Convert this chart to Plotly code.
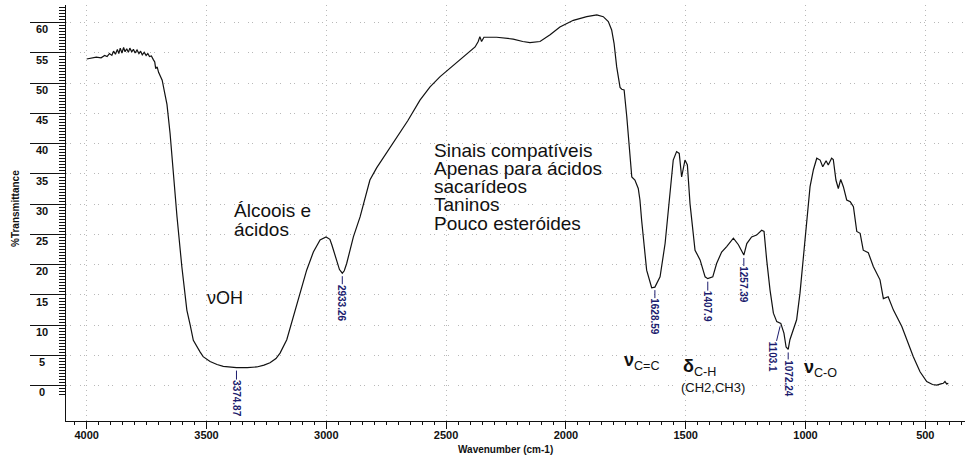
import numpy as np
import plotly.graph_objects as go

# ---------------- data ----------------
wavenumber = [
    4000, 3980, 3960, 3940, 3925, 3915, 3905, 3895, 3888, 3880, 3872, 3866, 3860, 3853,
    3846, 3840, 3833, 3826, 3820, 3812, 3805, 3798, 3790, 3782, 3775, 3768, 3760, 3752,
    3745, 3738, 3730, 3722, 3716, 3712, 3706, 3700, 3694, 3685, 3675, 3665, 3652, 3639,
    3623, 3603, 3582, 3568, 3555, 3527, 3514, 3485, 3456, 3430, 3400, 3374.87, 3330, 3290,
    3260, 3235, 3210, 3193, 3165, 3138, 3110, 3082, 3054, 3026, 3001, 2985, 2977, 2957,
    2945, 2933.26, 2925, 2915, 2900, 2887, 2859, 2831, 2818, 2790, 2760, 2730, 2700, 2660,
    2609, 2567, 2525, 2470, 2414, 2379, 2366, 2359, 2352, 2342, 2289, 2220, 2180, 2150,
    2108, 2066, 2025, 1969, 1913, 1871, 1844, 1823, 1809, 1799, 1788, 1774, 1767, 1757,
    1746, 1733, 1725, 1712, 1698, 1691, 1684, 1663, 1642, 1628.59, 1607, 1586, 1566, 1552,
    1538, 1527, 1517, 1503, 1493, 1482, 1461, 1440, 1419, 1407.9, 1387, 1371, 1350, 1329,
    1301, 1280, 1257.39, 1245, 1225, 1204, 1183, 1173, 1162, 1148, 1134, 1120, 1103.1, 1097,
    1090, 1081, 1072.24, 1065, 1051, 1037, 1023, 1009, 995, 981, 967, 953, 939, 928,
    914, 905, 891, 884, 873, 863, 853, 842, 828, 813, 800, 786, 772, 759,
    738, 717, 689, 675, 655, 633, 598, 578, 550, 522, 494, 470, 452, 435,
    425, 418, 411, 404,
]
transmittance = [
    54.0, 54.2, 54.3, 54.2, 54.6, 54.4, 54.9, 54.6, 55.3, 54.8, 55.6, 54.9, 55.8, 55.0,
    55.9, 55.2, 55.7, 55.1, 55.8, 55.2, 55.6, 55.0, 55.5, 54.9, 55.3, 54.7, 55.1, 54.6,
    54.9, 54.4, 54.5, 53.9, 53.5, 52.4, 52.7, 51.8, 51.2, 50.5, 48.5, 46.5, 41.7, 35.0,
    27.9, 19.7, 12.5, 10.0, 7.5, 5.6, 4.8, 4.0, 3.5, 3.2, 3.05, 3.0, 3.0, 3.1,
    3.4, 3.8, 4.5, 5.4, 7.6, 11.4, 15.3, 19.1, 22.1, 24.1, 24.6, 24.2, 23.3, 20.5,
    19.2, 18.6, 19.0, 20.2, 22.5, 24.6, 27.9, 32.3, 34.0, 36.0, 37.8, 39.5, 41.5, 43.8,
    47.2, 49.4, 51.1, 53.0, 54.9, 56.0, 56.9, 57.7, 56.9, 57.6, 57.6, 57.3, 56.9, 56.7,
    56.9, 58.0, 59.3, 60.4, 61.0, 61.3, 61.0, 60.2, 58.8, 56.6, 52.7, 49.3, 49.0, 48.9,
    44.5, 39.0, 34.5, 34.0, 32.6, 30.7, 27.4, 19.1, 16.2, 16.3, 18.0, 23.5, 31.8, 37.3,
    38.7, 38.4, 34.5, 37.3, 36.5, 30.1, 22.4, 20.8, 18.0, 17.7, 18.0, 20.2, 22.1, 23.0,
    24.4, 23.3, 21.6, 23.5, 24.6, 24.9, 25.7, 25.5, 20.8, 15.8, 12.0, 10.6, 10.3, 9.5,
    8.7, 6.4, 6.0, 7.6, 9.2, 10.9, 15.3, 20.8, 27.4, 32.9, 35.7, 37.6, 37.3, 36.2,
    37.2, 36.5, 37.6, 37.4, 34.0, 32.6, 34.1, 32.9, 30.7, 30.4, 29.6, 25.5, 25.2, 22.4,
    22.0, 19.7, 17.5, 14.4, 14.7, 12.5, 9.8, 7.6, 4.8, 2.3, 0.7, 0.2, 0.1, 0.3,
    0.4, 0.7, 0.3, 0.4,
]

peak_wn = [3374.87, 2933.26, 1628.59, 1407.9, 1257.39, 1103.1, 1072.24]
peak_labels = ["3374.87", "2933.26", "1628.59", "1407.9", "1257.39", "1103.1", "1072.24"]

y_tick_vals = [0, 5, 10, 15, 20, 25, 30, 35, 40, 45, 50, 55, 60]
y_tick_text = ["0", "5", "10", "15", "20", "25", "30", "35", "40", "45", "50", "55", "60"]
x_tick_vals = [4000, 3500, 3000, 2500, 2000, 1500, 1000, 500]
x_tick_text = ["4000", "3500", "3000", "2500", "2000", "1500", "1000", "500"]

block_lines = ["Sinais compatíveis", "Apenas para ácidos", "sacarídeos", "Taninos", "Pouco esteróides"]

# ---------------- layout helpers ----------------
W, H = 965, 458
L, T, R, B = 66, 5, 965, 421


def px(x):
    return (x - L) / (R - L)


def py(y):
    return (B - y) / (B - T)


FONT = "Liberation Sans, Arial, sans-serif"
NAVY = "#1c1c6e"

fig = go.Figure()
fig.add_trace(go.Scatter(
    x=wavenumber, y=transmittance, mode="lines",
    line=dict(color="#111111", width=1.2), hoverinfo="skip", showlegend=False,
))

ann = []

# peak labels (rotated, navy) with short leader lines
peak_T = [float(np.interp(w, wavenumber[::-1], transmittance[::-1])) for w in peak_wn]
offsets = {"3374.87": (0, 31), "2933.26": (0, 30), "1628.59": (0, 30), "1407.9": (0, 28),
           "1257.39": (0, 30), "1103.1": (-8, 33), "1072.24": (0, 29)}
for w, t, lab in zip(peak_wn, peak_T, peak_labels):
    ax_, ay_ = offsets[lab]
    ann.append(dict(
        x=w, y=t, xref="x", yref="y", text=lab, textangle=90,
        showarrow=True, arrowhead=0, arrowwidth=1, arrowcolor=NAVY, ax=ax_, ay=ay_,
        standoff=3, borderpad=0,
        font=dict(family=FONT, size=10, color=NAVY, weight="bold"),
    ))

# y tick labels (drawn just below each long tick)
for v, s in zip(y_tick_vals, y_tick_text):
    ann.append(dict(
        x=px(41.5), y=v, xref="paper", yref="y", text=s, showarrow=False,
        xanchor="center", yanchor="middle", yshift=-6.6,
        font=dict(family=FONT, size=11, color="#111111", weight="bold"),
    ))

# axis titles
ann.append(dict(x=px(505), y=py(449), xref="paper", yref="paper", text="Wavenumber (cm-1)",
                showarrow=False, xanchor="center", yanchor="middle",
                font=dict(family=FONT, size=10, color="#111111", weight="bold")))
ann.append(dict(x=px(15), y=py(209), xref="paper", yref="paper", text="%Transmittance",
                showarrow=False, xanchor="center", yanchor="middle", textangle=-90,
                font=dict(family=FONT, size=10, color="#111111", weight="bold")))

# free text annotations
TXT = dict(family=FONT, size=19, color="#111111")
ann.append(dict(x=px(231.7), y=py(210), xref="paper", yref="paper", text="Álcoois e",
                showarrow=False, xanchor="left", yanchor="middle", font=TXT))
ann.append(dict(x=px(231.7), y=py(229.5), xref="paper", yref="paper", text="ácidos",
                showarrow=False, xanchor="left", yanchor="middle", font=TXT))
ann.append(dict(x=px(205), y=py(298), xref="paper", yref="paper", text="νOH",
                showarrow=False, xanchor="left", yanchor="middle",
                font=dict(family=FONT, size=18, color="#111111")))
for i, line in enumerate(block_lines):
    ann.append(dict(x=px(431.7), y=py(150 + 18.3 * i), xref="paper", yref="paper", text=line,
                    showarrow=False, xanchor="left", yanchor="middle", font=TXT))

SYM = dict(family=FONT, size=18, color="#111111")
ann.append(dict(x=px(622), y=py(361), xref="paper", yref="paper", text="<b>ν</b><sub>C=C</sub>",
                showarrow=False, xanchor="left", yanchor="middle", font=SYM))
ann.append(dict(x=px(680.5), y=py(367), xref="paper", yref="paper", text="<b>δ</b><sub>C-H</sub>",
                showarrow=False, xanchor="left", yanchor="middle", font=SYM))
ann.append(dict(x=px(679), y=py(387), xref="paper", yref="paper", text="(CH2,CH3)",
                showarrow=False, xanchor="left", yanchor="middle",
                font=dict(family=FONT, size=13, color="#111111")))
ann.append(dict(x=px(802), y=py(368), xref="paper", yref="paper", text="<b>ν</b><sub>C-O</sub>",
                showarrow=False, xanchor="left", yanchor="middle", font=SYM))

fig.update_layout(
    width=W, height=H,
    margin=dict(l=L, r=W - R, t=T, b=H - B, pad=0),
    paper_bgcolor="white", plot_bgcolor="white",
    showlegend=False,
    annotations=ann,
    xaxis=dict(
        range=[4086.4, 334.3], tickmode="array", tickvals=x_tick_vals, ticktext=x_tick_text,
        ticks="outside", ticklen=7, tickwidth=1, tickcolor="#111111",
        tickfont=dict(family=FONT, size=11, color="#111111", weight="bold"),
        ticklabelstandoff=-3,
        showline=True, linecolor="#111111", linewidth=1.3,
        showgrid=True, gridcolor="#b8b8b8", gridwidth=1, griddash="1px,4px",
        zeroline=False,
        minor=dict(dtick=50, tick0=0, ticks="outside", ticklen=3, tickcolor="#111111", showgrid=False),
        fixedrange=True,
    ),
    yaxis=dict(
        range=[-5.83, 62.93], tickmode="array", tickvals=y_tick_vals,
        showticklabels=False,
        ticks="outside", ticklen=35, tickwidth=1, tickcolor="#111111",
        showline=True, linecolor="#111111", linewidth=1.3,
        showgrid=True, gridcolor="#b8b8b8", gridwidth=1, griddash="1px,3px,1px,9px",
        zeroline=False,
        minor=dict(tickmode="array", tickvals=list(np.arange(-1.5, 63.01, 0.5)),
                   ticks="outside", ticklen=6, tickcolor="#111111", showgrid=False),
        fixedrange=True,
    ),
)

fig.write_html("out.html")
